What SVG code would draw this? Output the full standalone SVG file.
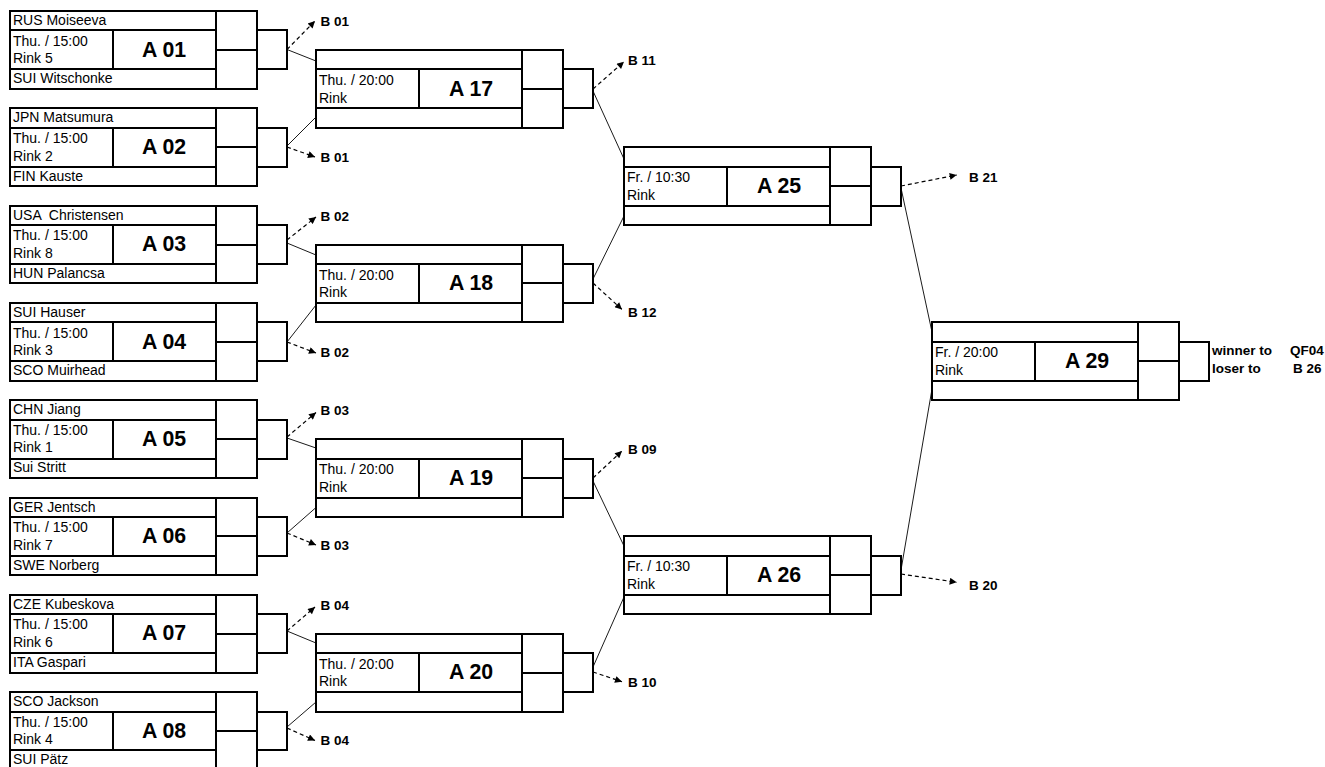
<svg xmlns="http://www.w3.org/2000/svg" xmlns:xlink="http://www.w3.org/1999/xlink" width="1325" height="767" viewBox="0 0 1325 767">
<style>
.bx{fill:none;stroke:#000;stroke-width:2;shape-rendering:crispEdges}
.t{font-family:"Liberation Sans",Arial,sans-serif;font-size:14px;fill:#000}
.m{font-family:"Liberation Sans",Arial,sans-serif;font-size:21.3px;font-weight:bold;fill:#000;text-anchor:middle}
.b{font-family:"Liberation Sans",Arial,sans-serif;font-size:13.5px;font-weight:bold;fill:#000}
.c{stroke:#000;stroke-width:0.9;fill:none}
.d{stroke:#000;stroke-width:1.2;fill:none;stroke-dasharray:4 3;marker-end:url(#ah)}
</style>
<defs>
<marker id="ah" viewBox="0 0 10 10" refX="10" refY="5" markerWidth="9" markerHeight="7" markerUnits="userSpaceOnUse" orient="auto">
<path d="M0,0 L10,5 L0,10 Z" fill="#000"/>
</marker>
<g id="box">
<rect class="bx" x="0" y="0" width="247" height="77.84"/>
<path class="bx" d="M0,19.46H206M0,58.38H206M206,0V77.84M103,19.46V58.38M206,38.92H247"/>
<rect class="bx" x="247" y="19.46" width="30" height="38.92"/>
</g>
</defs>
<rect width="1325" height="767" fill="#fff"/>

<g id="A01" transform="translate(10,11)"><use xlink:href="#box"/>
<text class="t" x="3" y="14">RUS Moiseeva</text><text class="t" x="3" y="34.7">Thu. / 15:00</text><text class="t" x="3" y="52.3">Rink 5</text><text class="m" x="154" y="45.7">A 01</text><text class="t" x="3" y="72.3">SUI Witschonke</text></g>
<g id="A02" transform="translate(10,108.3)"><use xlink:href="#box"/>
<text class="t" x="3" y="14">JPN Matsumura</text><text class="t" x="3" y="34.7">Thu. / 15:00</text><text class="t" x="3" y="52.3">Rink 2</text><text class="m" x="154" y="45.7">A 02</text><text class="t" x="3" y="72.3">FIN Kauste</text></g>
<g id="A03" transform="translate(10,205.6)"><use xlink:href="#box"/>
<text class="t" x="3" y="14" xml:space="preserve" style="white-space:pre">USA  Christensen</text><text class="t" x="3" y="34.7">Thu. / 15:00</text><text class="t" x="3" y="52.3">Rink 8</text><text class="m" x="154" y="45.7">A 03</text><text class="t" x="3" y="72.3">HUN Palancsa</text></g>
<g id="A04" transform="translate(10,302.9)"><use xlink:href="#box"/>
<text class="t" x="3" y="14">SUI Hauser</text><text class="t" x="3" y="34.7">Thu. / 15:00</text><text class="t" x="3" y="52.3">Rink 3</text><text class="m" x="154" y="45.7">A 04</text><text class="t" x="3" y="72.3">SCO Muirhead</text></g>
<g id="A05" transform="translate(10,400.2)"><use xlink:href="#box"/>
<text class="t" x="3" y="14">CHN Jiang</text><text class="t" x="3" y="34.7">Thu. / 15:00</text><text class="t" x="3" y="52.3">Rink 1</text><text class="m" x="154" y="45.7">A 05</text><text class="t" x="3" y="72.3">Sui Stritt</text></g>
<g id="A06" transform="translate(10,497.5)"><use xlink:href="#box"/>
<text class="t" x="3" y="14">GER Jentsch</text><text class="t" x="3" y="34.7">Thu. / 15:00</text><text class="t" x="3" y="52.3">Rink 7</text><text class="m" x="154" y="45.7">A 06</text><text class="t" x="3" y="72.3">SWE Norberg</text></g>
<g id="A07" transform="translate(10,594.8)"><use xlink:href="#box"/>
<text class="t" x="3" y="14">CZE Kubeskova</text><text class="t" x="3" y="34.7">Thu. / 15:00</text><text class="t" x="3" y="52.3">Rink 6</text><text class="m" x="154" y="45.7">A 07</text><text class="t" x="3" y="72.3">ITA Gaspari</text></g>
<g id="A08" transform="translate(10,692.1)"><use xlink:href="#box"/>
<text class="t" x="3" y="14">SCO Jackson</text><text class="t" x="3" y="34.7">Thu. / 15:00</text><text class="t" x="3" y="52.3">Rink 4</text><text class="m" x="154" y="45.7">A 08</text><text class="t" x="3" y="72.3">SUI Pätz</text></g>

<g id="A17" transform="translate(316,49.92)"><use xlink:href="#box"/>
<text class="t" x="3" y="35">Thu. / 20:00</text><text class="t" x="3" y="52.7">Rink</text><text class="m" x="155" y="45.7">A 17</text></g>
<g id="A18" transform="translate(316,244.52)"><use xlink:href="#box"/>
<text class="t" x="3" y="35">Thu. / 20:00</text><text class="t" x="3" y="52.7">Rink</text><text class="m" x="155" y="45.7">A 18</text></g>
<g id="A19" transform="translate(316,439.12)"><use xlink:href="#box"/>
<text class="t" x="3" y="35">Thu. / 20:00</text><text class="t" x="3" y="52.7">Rink</text><text class="m" x="155" y="45.7">A 19</text></g>
<g id="A20" transform="translate(316,633.72)"><use xlink:href="#box"/>
<text class="t" x="3" y="35">Thu. / 20:00</text><text class="t" x="3" y="52.7">Rink</text><text class="m" x="155" y="45.7">A 20</text></g>

<g id="A25" transform="translate(624,147.22)"><use xlink:href="#box"/>
<text class="t" x="3" y="35">Fr. / 10:30</text><text class="t" x="3" y="52.7">Rink</text><text class="m" x="155" y="45.7">A 25</text></g>
<g id="A26" transform="translate(624,536.42)"><use xlink:href="#box"/>
<text class="t" x="3" y="35">Fr. / 10:30</text><text class="t" x="3" y="52.7">Rink</text><text class="m" x="155" y="45.7">A 26</text></g>

<g id="A29" transform="translate(932,322.36)"><use xlink:href="#box"/>
<text class="t" x="3" y="35">Fr. / 20:00</text><text class="t" x="3" y="52.7">Rink</text><text class="m" x="155" y="45.7">A 29</text></g>

<g id="connectors">
<path class="c" d="M287,49.5L316,61M287,146L316,117M287,243L316,255M287,342L316,305M287,438L316,448M287,533L316,507.5M287,631L316,643M287,727L316,702M593,91L624,159M593,279L624,216M593,481L624,546M593,667L624,597M901,188L932,332M901,570L932,389"/>
<path class="d" d="M287,49.5L315,21"/>
<path class="d" d="M287,147L315,157"/>
<path class="d" d="M287,240L316,217"/>
<path class="d" d="M287,342L316,353"/>
<path class="d" d="M287,437L316,412.5"/>
<path class="d" d="M287,533L316,545"/>
<path class="d" d="M287,631L315,607"/>
<path class="d" d="M287,728L315,740.5"/>
<path class="d" d="M593,89L624,61.7"/>
<path class="d" d="M593,283L622,309.5"/>
<path class="d" d="M593,478L622,451"/>
<path class="d" d="M593,672L622,681.7"/>
<path class="d" d="M901,186L956.7,175"/>
<path class="d" d="M901,574L956.7,582.3"/>
</g>

<g id="labels">
<text class="b" x="320.5" y="26">B 01</text>
<text class="b" x="320.5" y="161.7">B 01</text>
<text class="b" x="320.5" y="221">B 02</text>
<text class="b" x="320.5" y="357">B 02</text>
<text class="b" x="320.5" y="415">B 03</text>
<text class="b" x="320.5" y="550">B 03</text>
<text class="b" x="320.5" y="610">B 04</text>
<text class="b" x="320.5" y="745">B 04</text>
<text class="b" x="628" y="64.5">B 11</text>
<text class="b" x="628" y="316.7">B 12</text>
<text class="b" x="628" y="454">B 09</text>
<text class="b" x="628" y="686.7">B 10</text>
<text class="b" x="969" y="181.7">B 21</text>
<text class="b" x="969" y="590">B 20</text>
<text class="b" x="1212" y="355">winner to</text>
<text class="b" x="1290" y="355">QF04</text>
<text class="b" x="1212" y="372.7">loser to</text>
<text class="b" x="1293" y="372.7">B 26</text>
</g>
</svg>
